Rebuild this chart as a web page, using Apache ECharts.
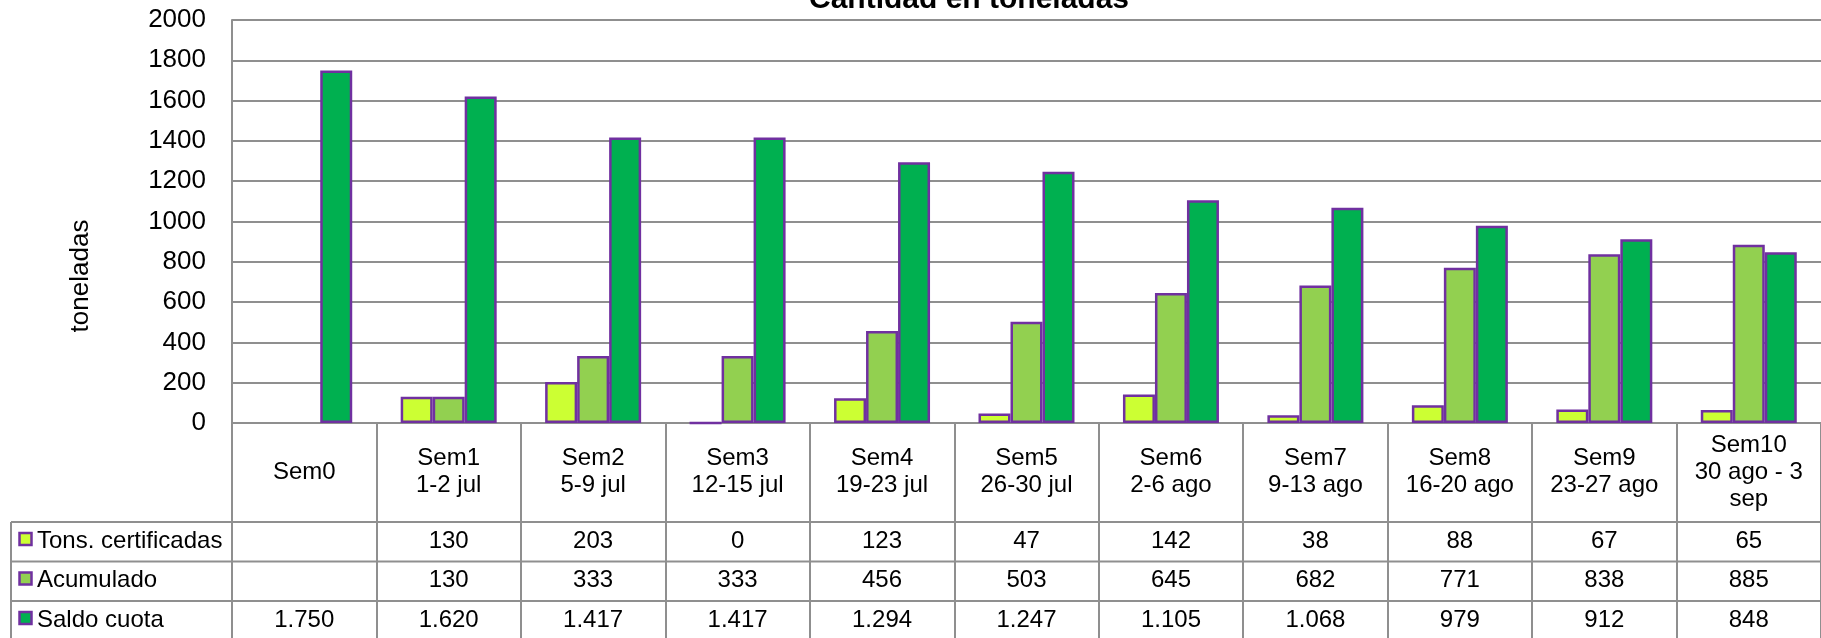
<!DOCTYPE html>
<html>
<head>
<meta charset="utf-8">
<title>Cantidad en toneladas</title>
<script src="https://cdn.jsdelivr.net/npm/echarts@6/dist/echarts.min.js"></script>
<style>
  html, body { margin: 0; padding: 0; background: #fff; }
  #chart { width: 1821px; height: 638px; }
</style>
</head>
<body>
<div id="chart"></div>
<script>
// categorias (semanas) y datos en toneladas
var semanas = ['Sem0', 'Sem1\n1-2 jul', 'Sem2\n5-9 jul', 'Sem3\n12-15 jul', 'Sem4\n19-23 jul',
    'Sem5\n26-30 jul', 'Sem6\n2-6 ago', 'Sem7\n9-13 ago', 'Sem8\n16-20 ago', 'Sem9\n23-27 ago',
    'Sem10\n30 ago - 3\nsep'];
var tonsCertificadas = [null, 130, 203, 0, 123, 47, 142, 38, 88, 67, 65];
var acumulado = [null, 130, 333, 333, 456, 503, 645, 682, 771, 838, 885];
var saldoCuota = [1750, 1620, 1417, 1417, 1294, 1247, 1105, 1068, 979, 912, 848];
var nombres = ['Tons. certificadas', 'Acumulado', 'Saldo cuota'];
var colores = ['#CCFF33', '#92D050', '#00B050'];
var yTicks = [0, 2000, 200]; // min, max, interval

var fuente = 'Liberation Sans, Arial, sans-serif';
var gris = '#8f8f8f';
var borde = '#7030A0';

// 1750 -> "1.750"
function fmt(v) {
    if (v === null || v === undefined) return '';
    return String(v).replace(/\B(?=(\d{3})+(?!\d))/g, '.');
}

var chart = echarts.init(document.getElementById('chart'));

var filas = [tonsCertificadas, acumulado, saldoCuota];
var filaY = [541, 580.5, 620]; // centro de cada fila de la tabla
var ejeCero = 423;

// ejes extra: una fila de la tabla por serie
var ejesTabla = filas.map(function (fila, k) {
    return {
        type: 'category',
        data: semanas,
        position: 'bottom',
        axisLine: { show: false },
        axisTick: { show: false },
        splitLine: { show: false },
        axisLabel: {
            interval: 0,
            margin: filaY[k] - ejeCero,
            verticalAlign: 'middle',
            color: '#000',
            fontSize: 24,
            fontFamily: fuente,
            formatter: function (v, i) { return fmt(fila[i]); }
        }
    };
});

var series = filas.map(function (fila, k) {
    return {
        name: nombres[k],
        type: 'bar',
        data: fila,
        barWidth: 32,
        barGap: '0%',
        itemStyle: { color: colores[k], borderColor: borde, borderWidth: 2.5 }
    };
});

// leyenda de la tabla (columna izquierda)
var graficos = [];
nombres.forEach(function (n, k) {
    graficos.push({
        type: 'rect',
        shape: { x: 19.5, y: filaY[k] - 8, width: 12, height: 12 },
        style: { fill: colores[k], stroke: borde, lineWidth: 2.5 }
    });
    graficos.push({
        type: 'text',
        x: 37, y: filaY[k],
        style: { text: n, fill: '#000', font: '24px ' + fuente, verticalAlign: 'middle', align: 'left' }
    });
});
// lineas de la tabla
[522, 561.5, 601].forEach(function (y) {
    graficos.push({
        type: 'line',
        shape: { x1: 11, y1: y, x2: 1821, y2: y },
        style: { stroke: gris, lineWidth: 2 }
    });
});
graficos.push({
    type: 'line',
    shape: { x1: 11, y1: 522, x2: 11, y2: 640 },
    style: { stroke: gris, lineWidth: 2 }
});
// titulo y nombre del eje
graficos.push({
    type: 'text',
    x: 969, y: 0,
    style: { text: 'Cantidad en toneladas', fill: '#000', font: 'bold 30px ' + fuente, align: 'center', verticalAlign: 'middle' }
});
graficos.push({
    type: 'text',
    x: 81, y: 276,
    rotation: Math.PI / 2,
    style: { text: 'toneladas', fill: '#000', font: '26px ' + fuente, align: 'center', verticalAlign: 'middle' }
});

var option = {
    animation: false,
    backgroundColor: '#fff',
    grid: { left: 232, right: 0, top: 20, bottom: 638 - ejeCero },
    xAxis: [{
        type: 'category',
        data: semanas,
        position: 'bottom',
        axisLine: { show: true, lineStyle: { color: gris, width: 2 } },
        axisTick: { show: true, interval: 0, length: 640 - ejeCero, lineStyle: { color: gris, width: 2 } },
        axisLabel: {
            interval: 0,
            margin: 49,
            verticalAlign: 'middle',
            color: '#000',
            fontSize: 24,
            lineHeight: 27,
            fontFamily: fuente
        }
    }].concat(ejesTabla),
    yAxis: {
        type: 'value',
        min: yTicks[0],
        max: yTicks[1],
        interval: yTicks[2],
        axisLine: { show: true, lineStyle: { color: gris, width: 2 } },
        axisTick: { show: false },
        splitLine: { lineStyle: { color: gris, width: 2 } },
        axisLabel: {
            margin: 26, color: '#000', fontSize: 26, fontFamily: fuente,
            formatter: function (v) { return String(v); }
        }
    },
    series: series,
    graphic: graficos
};

chart.setOption(option);
</script>
</body>
</html>
